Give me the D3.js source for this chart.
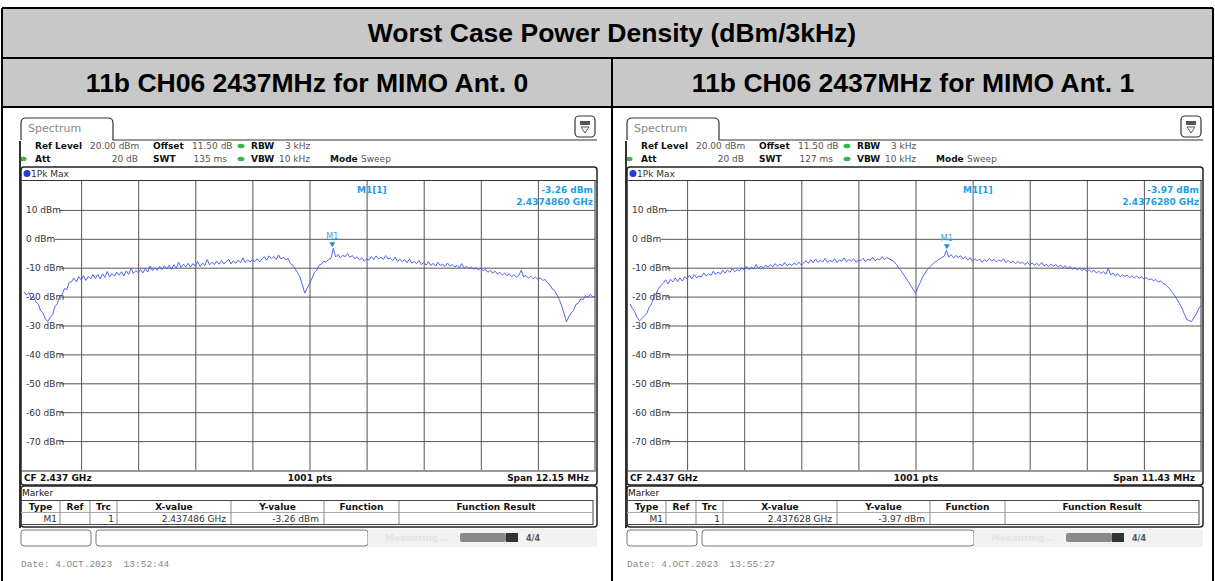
<!DOCTYPE html>
<html>
<head>
<meta charset="utf-8">
<script src="https://cdn.jsdelivr.net/npm/d3@7"></script>
<style>
body { margin: 0; background: #fff; }
svg text { font-family: "DejaVu Sans", sans-serif; }
</style>
</head>
<body>
<svg width="1215" height="581"></svg>
<script>
// chart values
var mainTitle = "Worst Case Power Density (dBm/3kHz)";
var panelTitles = ["11b CH06 2437MHz for MIMO Ant. 0", "11b CH06 2437MHz for MIMO Ant. 1"];
var levelTicks = [10, 0, -10, -20, -30, -40, -50, -60, -70];
var centerFreqs = [2.437, 2.437];          // GHz
var spans = [12.15, 11.43];                // MHz
var sweepTimes = ["135 ms", "127 ms"];
var markerFreqs = [2.437486, 2.437628];    // GHz
var markerLevels = [-3.26, -3.97];         // dBm
var markerFreqText = ["2.4374860 GHz", "2.4376280 GHz"];
var markerXText = ["2.437486 GHz", "2.437628 GHz"];
var dates = ["Date: 4.OCT.2023  13:52:44", "Date: 4.OCT.2023  13:55:27"];

// traces, evenly spaced over the span (dBm)
var trace0 = [
  -18.2, -19.5, -18.6, -20.4, -19.8, -21.9, -22.6, -24.9, -25.7, -27.8,
  -28.6, -27.2, -26.3, -23.5, -22.4, -19.9, -19.3, -17.2, -17.6, -15.1,
  -14.8, -13.6, -14.9, -13.1, -14.2, -12.8, -14.4, -13.0, -13.9, -12.4,
  -13.7, -12.3, -13.9, -12.1, -13.4, -11.3, -13.2, -12.0, -12.9, -11.6,
  -12.6, -11.4, -12.8, -11.1, -12.3, -10.2, -12.0, -11.0, -11.7, -10.6,
  -11.8, -10.3, -11.5, -9.4, -11.0, -10.1, -10.9, -9.6, -10.7, -9.3,
  -10.4, -9.2, -10.6, -9.0, -10.1, -8.1, -9.9, -8.8, -9.7, -8.5,
  -9.8, -8.6, -9.5, -7.9, -9.6, -8.4, -9.2, -7.2, -9.0, -8.1,
  -8.9, -7.7, -8.8, -7.5, -8.6, -8.0, -7.1, -8.7, -7.6, -8.5,
  -7.4, -8.3, -6.6, -8.2, -7.3, -8.1, -7.2, -7.9, -6.9, -8.0,
  -7.0, -6.2, -7.4, -5.9, -6.9, -6.1, -7.2, -5.6, -7.0, -6.4,
  -7.3, -6.8, -8.6, -9.1, -10.4, -11.8, -13.2, -15.9, -18.8, -17.1,
  -15.4, -13.8, -11.7, -10.9, -9.2, -8.8, -7.7, -8.1, -7.2, -6.8,
  -3.3, -6.3, -5.4, -6.6, -5.7, -6.2, -5.1, -6.4, -5.8, -6.9,
  -6.2, -7.3, -6.6, -7.8, -6.9, -7.4, -6.1, -7.2, -5.9, -7.0,
  -6.4, -7.1, -5.8, -6.9, -6.7, -7.5, -6.3, -7.8, -7.1, -7.9,
  -7.2, -8.3, -7.0, -8.4, -7.9, -8.6, -7.5, -8.9, -8.2, -9.1,
  -7.9, -9.2, -8.5, -9.4, -8.1, -9.3, -8.8, -9.6, -8.4, -9.5,
  -8.9, -9.8, -9.2, -10.1, -8.6, -10.2, -9.5, -10.4, -9.7, -10.6,
  -9.9, -10.8, -10.2, -11.1, -10.5, -11.6, -10.9, -11.9, -11.2, -12.2,
  -11.6, -12.5, -11.9, -12.8, -12.1, -13.1, -12.4, -13.3, -12.6, -10.9,
  -13.2, -12.7, -13.6, -12.9, -13.8, -13.3, -14.0, -13.5, -14.4, -14.1,
  -15.2, -15.9, -17.3, -17.8, -19.4, -21.0, -23.2, -25.9, -28.7, -27.0,
  -25.6, -24.8, -22.7, -22.3, -20.8, -21.1, -19.7, -20.3, -19.2, -20.1, -19.8
];
var trace1 = [
  -22.5, -24.1, -25.3, -27.2, -28.4, -27.6, -26.8, -25.9, -23.8, -22.6,
  -20.1, -18.9, -17.2, -16.1, -15.3, -14.2, -15.6, -14.0, -14.9, -13.6,
  -14.8, -13.5, -14.6, -13.1, -13.9, -12.6, -13.8, -12.4, -13.5, -12.9,
  -13.2, -11.8, -12.9, -12.1, -12.6, -11.2, -12.4, -11.5, -12.2, -10.9,
  -11.9, -10.8, -11.6, -10.3, -11.4, -10.7, -11.1, -10.0, -10.8, -9.6,
  -10.7, -9.8, -10.4, -8.9, -10.2, -9.5, -10.0, -9.2, -9.8, -9.0,
  -9.7, -8.6, -9.5, -8.8, -9.4, -8.2, -9.3, -8.7, -9.2, -8.4,
  -9.0, -8.1, -9.1, -8.3, -7.6, -8.5, -7.2, -8.3, -7.0, -8.2,
  -7.4, -8.0, -6.8, -8.1, -7.5, -7.9, -6.9, -8.2, -7.3, -7.8,
  -6.6, -8.0, -7.2, -7.7, -6.9, -8.1, -7.4, -7.6, -6.7, -7.9,
  -7.0, -7.5, -6.4, -7.6, -6.9, -7.3, -6.2, -7.2, -6.5, -6.9,
  -7.4, -7.9, -8.9, -10.2, -11.1, -12.4, -13.6, -14.9, -16.2, -17.5,
  -18.7, -16.8, -15.1, -13.2, -11.9, -10.6, -9.7, -8.9, -8.1, -7.6,
  -7.0, -6.5, -6.1, -4.0, -6.3, -5.5, -6.6, -5.8, -6.4, -5.9,
  -6.9, -6.2, -7.3, -6.6, -7.8, -6.9, -7.6, -7.0, -8.1, -7.2,
  -7.9, -6.8, -7.7, -7.1, -8.0, -7.3, -7.8, -6.9, -8.2, -7.5,
  -8.4, -7.7, -8.6, -7.9, -8.5, -8.1, -8.9, -8.2, -9.0, -8.4,
  -9.1, -8.5, -9.3, -8.2, -9.4, -8.8, -9.6, -8.7, -9.5, -8.9,
  -9.7, -9.1, -10.0, -9.3, -10.3, -9.6, -10.6, -9.9, -10.8, -10.2,
  -11.0, -10.4, -11.3, -10.7, -11.5, -10.9, -11.8, -11.2, -12.0, -11.3,
  -12.3, -10.2, -12.5, -11.8, -12.9, -12.1, -13.1, -12.4, -13.0, -12.6,
  -13.4, -12.8, -13.6, -12.9, -13.7, -13.2, -13.9, -13.4, -14.2, -13.8,
  -14.5, -14.1, -14.9, -14.6, -15.4, -15.8, -16.6, -17.4, -18.6, -19.7,
  -21.1, -22.5, -24.0, -26.1, -27.9, -28.3, -28.6, -27.4, -26.0, -24.2, -23.1
];
var traces = [trace0, trace1];
var tableHeaders = ["Type", "Ref", "Trc", "X-value", "Y-value", "Function", "Function Result"];

var svg = d3.select("svg");

// ---------- outer report table ----------
svg.append("rect").attr("x", 2).attr("y", 8).attr("width", 1211).attr("height", 99).attr("fill", "#c8c8c8");
var borders = [
  [2, 8, 1213, 8], [2, 58, 1213, 58], [2, 107, 1213, 107],
  [2, 8, 2, 581], [1213, 8, 1213, 581], [612, 58, 612, 581]
];
svg.append("g").selectAll("line").data(borders).enter().append("line")
  .attr("x1", function(d) { return d[0]; }).attr("y1", function(d) { return d[1]; })
  .attr("x2", function(d) { return d[2]; }).attr("y2", function(d) { return d[3]; })
  .attr("stroke", "#000").attr("stroke-width", 2);

svg.append("text").attr("x", 612).attr("y", 42).attr("text-anchor", "middle")
  .style("font-family", "'Liberation Sans', Arial, sans-serif").style("font-weight", "bold")
  .style("font-size", "26.5px").text(mainTitle);
svg.append("g").selectAll("text").data(panelTitles).enter().append("text")
  .attr("x", function(d, i) { return i == 0 ? 307 : 913; }).attr("y", 92)
  .attr("text-anchor", "middle")
  .style("font-family", "'Liberation Sans', Arial, sans-serif").style("font-weight", "bold")
  .style("font-size", "26.5px").text(function(d) { return d; });

// ---------- analyzer screenshot ----------
function txt(g, x, y, s, opts) {
  opts = opts || {};
  return g.append("text").attr("x", x).attr("y", y)
    .attr("text-anchor", opts.anchor || "start")
    .style("font-size", (opts.size || 9) + "px")
    .style("font-weight", opts.bold ? "bold" : "normal")
    .attr("fill", opts.color || "#111")
    .text(s);
}

function drawPanel(k, ox) {
  var g = svg.append("g").attr("transform", "translate(" + ox + ",0)");
  var half = spans[k] / 2000;
  var f0 = centerFreqs[k] - half, f1 = centerFreqs[k] + half;
  var x = d3.scaleLinear().domain([f0, f1]).range([24, 595]);
  var y = d3.scaleLinear().domain([20, -80]).range([181, 470]);

  // tab + top line
  g.append("path")
    .attr("d", "M21,140 L21,123 Q21,118 26,118 L108,118 Q113,118 113,123 L113,140 L597,140")
    .attr("fill", "none").attr("stroke", "#333").attr("stroke-width", 1.2);
  txt(g, 28, 132, "Spectrum", {size: 11, color: "#888"});
  // menu icon
  g.append("rect").attr("x", 575).attr("y", 116).attr("width", 20).attr("height", 21).attr("rx", 4)
    .attr("fill", "#fff").attr("stroke", "#333").attr("stroke-width", 1.2);
  g.append("rect").attr("x", 580).attr("y", 121).attr("width", 10).attr("height", 4).attr("fill", "#555");
  g.append("path").attr("d", "M581,127 L589,127 L585,133 Z").attr("fill", "none").attr("stroke", "#555");

  // settings rows
  txt(g, 35, 149, "Ref Level", {bold: true});
  txt(g, 90, 149, "20.00 dBm", {color: "#555"});
  txt(g, 153, 149, "Offset", {bold: true});
  txt(g, 192, 149, "11.50 dB", {color: "#555"});
  txt(g, 251, 149, "RBW", {bold: true});
  txt(g, 285, 149, "3 kHz", {color: "#555"});
  txt(g, 35, 162, "Att", {bold: true});
  txt(g, 138, 162, "20 dB", {color: "#555", anchor: "end"});
  txt(g, 153, 162, "SWT", {bold: true});
  txt(g, 227, 162, sweepTimes[k], {color: "#555", anchor: "end"});
  txt(g, 251, 162, "VBW", {bold: true});
  txt(g, 279, 162, "10 kHz", {color: "#555"});
  txt(g, 330, 162, "Mode", {bold: true});
  txt(g, 361, 162, "Sweep", {color: "#555"});
  [[241, 146], [241, 159], [23, 159]].forEach(function(p) {
    g.append("ellipse").attr("cx", p[0]).attr("cy", p[1]).attr("rx", 3.5).attr("ry", 2.2).attr("fill", "#3cb44b");
  });

  // left frame
  g.append("line").attr("x1", 20).attr("y1", 141).attr("x2", 20).attr("y2", 528)
    .attr("stroke", "#333").attr("stroke-width", 2);

  // diagram box
  g.append("rect").attr("x", 21).attr("y", 167).attr("width", 576).attr("height", 318).attr("rx", 3)
    .attr("fill", "#fff").attr("stroke", "#222").attr("stroke-width", 1.5);
  g.append("circle").attr("cx", 27).attr("cy", 173.5).attr("r", 3.5).attr("fill", "#1f3de0");
  txt(g, 31, 177, "1Pk Max", {color: "#333"});
  g.append("line").attr("x1", 22).attr("x2", 596).attr("y1", 180.5).attr("y2", 180.5).attr("stroke", "#333");
  g.append("line").attr("x1", 22).attr("x2", 596).attr("y1", 471).attr("y2", 471).attr("stroke", "#333");

  // vertical grid
  var xTicks = d3.range(1, 10).map(function(j) { return f0 + j * (f1 - f0) / 10; });
  var gx = g.append("g").attr("transform", "translate(0,470)")
    .call(d3.axisBottom(x).tickValues(xTicks).tickSize(-289).tickFormat(""));
  gx.select(".domain").remove();
  gx.selectAll("line").attr("stroke", "#555");

  // horizontal grid
  var gy = g.append("g").attr("transform", "translate(24,0)")
    .call(d3.axisRight(y).tickValues(levelTicks).tickSize(571).tickFormat(""));
  gy.select(".domain").remove();
  gy.selectAll("line").attr("stroke", "#555");

  // level labels
  var lab = g.append("g").selectAll("g").data(levelTicks).enter().append("g");
  lab.append("rect").attr("x", 24).attr("y", function(d) { return y(d) - 5; })
    .attr("width", function(d) { return d >= 0 && d < 10 ? 31 : (d == 10 ? 35 : 37); })
    .attr("height", 10).attr("fill", "#fff");
  lab.append("text").attr("x", 26).attr("y", function(d) { return y(d) + 3.5; })
    .style("font-size", "9px").attr("fill", "#333")
    .text(function(d) { return d + " dBm"; });
  g.append("line").attr("x1", 595).attr("x2", 595).attr("y1", 181).attr("y2", 470).attr("stroke", "#333");

  // trace
  var tr = traces[k];
  var line = d3.line()
    .x(function(d, i) { return x(f0 + i * (f1 - f0) / (tr.length - 1)); })
    .y(function(d) { return y(d); });
  g.append("path").datum(tr).attr("d", line)
    .attr("fill", "none").attr("stroke", "#3f52f0").attr("stroke-width", 0.9);

  // marker
  var mx = x(markerFreqs[k]), my = y(markerLevels[k]);
  g.append("path").attr("d", "M" + (mx - 3) + "," + (my - 6) + " L" + (mx + 3) + "," + (my - 6) + " L" + mx + "," + (my - 1) + " Z")
    .attr("fill", "#1e8fd8");
  txt(g, mx, my - 9, "M1", {size: 8, color: "#39a3e0", anchor: "middle"});
  txt(g, 357, 193, "M1[1]", {color: "#1e9ee6", bold: true});
  txt(g, 593, 193, markerLevels[k].toFixed(2) + " dBm", {color: "#1e9ee6", bold: true, anchor: "end"});
  txt(g, 593, 205, markerFreqText[k], {color: "#1e9ee6", bold: true, anchor: "end"});

  // bottom row
  txt(g, 24, 481, "CF " + centerFreqs[k] + " GHz", {bold: true});
  txt(g, 310, 481, "1001 pts", {bold: true, anchor: "middle"});
  txt(g, 589, 481, "Span " + spans[k].toFixed(2) + " MHz", {bold: true, anchor: "end"});

  // marker table
  g.append("rect").attr("x", 21).attr("y", 486).attr("width", 576).attr("height", 41).attr("rx", 3)
    .attr("fill", "#fff").attr("stroke", "#222").attr("stroke-width", 1.5);
  txt(g, 22, 496, "Marker");
  var cols = [21, 60, 90, 117, 231, 324, 399, 593];
  g.append("rect").attr("x", 21).attr("y", 500.5).attr("width", 572).attr("height", 24)
    .attr("fill", "none").attr("stroke", "#444");
  g.append("line").attr("x1", 21).attr("x2", 593).attr("y1", 512.5).attr("y2", 512.5).attr("stroke", "#aaa");
  g.append("g").selectAll("line").data(cols.slice(1, 7)).enter().append("line")
    .attr("x1", function(d) { return d; }).attr("x2", function(d) { return d; })
    .attr("y1", 501).attr("y2", 524).attr("stroke", "#888");
  tableHeaders.forEach(function(h, i) {
    txt(g, (cols[i] + cols[i + 1]) / 2, 510, h, {bold: true, anchor: "middle"});
  });
  txt(g, 57, 522, "M1", {anchor: "end", color: "#333"});
  txt(g, 114, 522, "1", {anchor: "end", color: "#333"});
  txt(g, 226, 522, markerXText[k], {anchor: "end", color: "#333"});
  txt(g, 319, 522, markerLevels[k].toFixed(2) + " dBm", {anchor: "end", color: "#333"});

  // status bar
  g.append("rect").attr("x", 21).attr("y", 530).attr("width", 70).attr("height", 16).attr("rx", 3)
    .attr("fill", "#fff").attr("stroke", "#777");
  g.append("rect").attr("x", 96).attr("y", 530).attr("width", 272).attr("height", 16).attr("rx", 3)
    .attr("fill", "#fff").attr("stroke", "#777");
  g.append("rect").attr("x", 368).attr("y", 529).attr("width", 229).attr("height", 18).attr("fill", "#f2f2f2");
  txt(g, 385, 541, "Measuring...", {color: "#e4e4e4", bold: true});
  g.append("rect").attr("x", 460).attr("y", 533).attr("width", 46).attr("height", 9).attr("rx", 2).attr("fill", "#8a8a8a");
  g.append("rect").attr("x", 506).attr("y", 533).attr("width", 12).attr("height", 9).attr("fill", "#333");
  txt(g, 526, 541, "4/4", {color: "#555", bold: true, size: 8});

  // date line
  g.append("text").attr("x", 21).attr("y", 567)
    .style("font-family", "'Liberation Mono', monospace").style("font-size", "9.5px")
    .style("white-space", "pre").attr("xml:space", "preserve")
    .attr("fill", "#888").text(dates[k]);
}

drawPanel(0, 0);
drawPanel(1, 606);
</script>
</body>
</html>
